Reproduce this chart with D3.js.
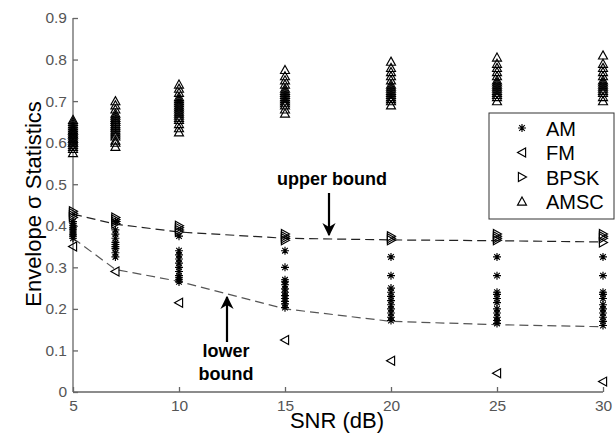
<!DOCTYPE html>
<meta charset="utf-8">
<style>
body { margin: 0; background: #fff; }
svg { font-family: 'Liberation Sans', Arial, sans-serif; }
.tick text { fill: #555; font-size: 15.5px; }
.axis path, .axis line { stroke: #666; stroke-width: 1.3px; }
.mark { fill: none; stroke: #000; stroke-width: 1.15px; }
.bound { fill: none; stroke-width: 1.2px; stroke-dasharray: 9,5; }
</style>
<html>
  <body>
    <svg width="616" height="439"></svg>
  </body>
</html>
<script src="https://d3js.org/d3.v7.min.js"></script>
<script>

var snr = [5, 7, 10, 15, 20, 25, 30];
var xTicks = [5, 10, 15, 20, 25, 30];
var yTicks = [0, 0.1, 0.2, 0.3, 0.4, 0.5, 0.6, 0.7, 0.8, 0.9];

// one list per SNR value
var amsc = [
  [0.575, 0.585, 0.59, 0.595, 0.6, 0.6, 0.605, 0.61, 0.61, 0.615, 0.62, 0.62, 0.625, 0.63, 0.63, 0.635, 0.64, 0.645, 0.65, 0.655],
  [0.59, 0.6, 0.605, 0.615, 0.62, 0.625, 0.63, 0.635, 0.64, 0.645, 0.65, 0.655, 0.66, 0.665, 0.67, 0.68, 0.69, 0.70],
  [0.625, 0.635, 0.645, 0.655, 0.66, 0.665, 0.67, 0.675, 0.68, 0.685, 0.69, 0.695, 0.70, 0.705, 0.71, 0.72, 0.73, 0.74],
  [0.67, 0.68, 0.69, 0.695, 0.70, 0.705, 0.71, 0.715, 0.72, 0.725, 0.73, 0.74, 0.75, 0.76, 0.775],
  [0.69, 0.70, 0.705, 0.71, 0.715, 0.72, 0.725, 0.73, 0.735, 0.74, 0.75, 0.76, 0.77, 0.78, 0.795],
  [0.70, 0.71, 0.715, 0.72, 0.725, 0.73, 0.735, 0.74, 0.745, 0.75, 0.76, 0.77, 0.78, 0.79, 0.805],
  [0.70, 0.71, 0.72, 0.725, 0.73, 0.735, 0.74, 0.745, 0.75, 0.76, 0.77, 0.78, 0.79, 0.81]
];
var am = [
  [0.37, 0.375, 0.38, 0.385, 0.39, 0.395, 0.40, 0.405, 0.41],
  [0.325, 0.335, 0.345, 0.35, 0.355, 0.36, 0.37, 0.38, 0.39, 0.41],
  [0.265, 0.27, 0.275, 0.28, 0.29, 0.30, 0.31, 0.32, 0.33, 0.34, 0.375],
  [0.203, 0.212, 0.218, 0.225, 0.232, 0.24, 0.248, 0.258, 0.265, 0.27, 0.30, 0.34],
  [0.172, 0.18, 0.19, 0.2, 0.21, 0.22, 0.23, 0.24, 0.25, 0.28, 0.325],
  [0.165, 0.172, 0.18, 0.19, 0.2, 0.215, 0.225, 0.235, 0.24, 0.28, 0.325],
  [0.16, 0.17, 0.18, 0.19, 0.2, 0.21, 0.225, 0.235, 0.24, 0.28, 0.325]
];
var fm = [[0.35], [0.29], [0.215], [0.125], [0.075], [0.045], [0.025]];
var bpsk = [
  [0.42, 0.425, 0.43, 0.435],
  [0.405, 0.41, 0.415, 0.42],
  [0.385, 0.39, 0.395, 0.40],
  [0.365, 0.37, 0.375, 0.38],
  [0.365, 0.37, 0.375],
  [0.365, 0.37, 0.375, 0.38],
  [0.36, 0.37, 0.375, 0.38]
];
var upperBound = [0.428, 0.404, 0.385, 0.37, 0.366, 0.364, 0.361];
var lowerBound = [0.37, 0.295, 0.266, 0.2, 0.17, 0.162, 0.157];

var legendNames = ["AM", "FM", "BPSK", "AMSC"];

(function() {
  var svg = d3.select("svg");

  var x = d3.scaleLinear().domain([5, 30]).range([73, 603]);
  var y = d3.scaleLinear().domain([0, 0.9]).range([392, 18]);

  // marker shapes, MATLAB style
  function star(s) {
    var d = s * 0.7;
    return "M" + (-s) + ",0H" + s + "M0," + (-s) + "V" + s +
           "M" + (-d) + "," + (-d) + "L" + d + "," + d +
           "M" + (-d) + "," + d + "L" + d + "," + (-d);
  }
  function tri(dir, s) {
    if (dir == "up") return "M0," + (-s) + "L" + s + "," + (s * 0.8) + "L" + (-s) + "," + (s * 0.8) + "Z";
    if (dir == "left") return "M" + (-s) + ",0L" + (s * 0.8) + "," + (-s) + "L" + (s * 0.8) + "," + s + "Z";
    return "M" + s + ",0L" + (-s * 0.8) + "," + (-s) + "L" + (-s * 0.8) + "," + s + "Z";
  }
  var shapes = {
    AM: star(4),
    FM: tri("left", 4.5),
    BPSK: tri("right", 4.5),
    AMSC: tri("up", 4.5)
  };

  // axes
  svg.append("g")
      .attr("class", "axis")
      .attr("transform", "translate(0,392)")
      .call(d3.axisBottom(x).tickValues(xTicks).tickSize(-5).tickPadding(8).tickFormat(d3.format("d")))
      .call(function(g) { g.select(".domain").attr("d", "M73,0H603"); });

  svg.append("g")
      .attr("class", "axis")
      .attr("transform", "translate(73,0)")
      .call(d3.axisLeft(y).tickValues(yTicks).tickSize(-5).tickPadding(6)
          .tickFormat(function(d) { return d == 0 ? "0" : d3.format(".1f")(d); }))
      .call(function(g) { g.select(".domain").attr("d", "M0,18V392"); });

  // bound lines
  var line = d3.line()
      .x(function(d, i) { return x(snr[i]); })
      .y(function(d) { return y(d); });

  svg.append("path").datum(upperBound)
      .attr("class", "bound").attr("stroke", "#222").attr("d", line);
  svg.append("path").datum(lowerBound)
      .attr("class", "bound").attr("stroke", "#555").attr("d", line);

  function plotSeries(name, values) {
    var pts = [];
    values.forEach(function(list, i) {
      list.forEach(function(v) { pts.push({ x: snr[i], y: v }); });
    });
    svg.append("g").selectAll("path")
      .data(pts)
      .enter().append("path")
        .attr("class", "mark")
        .attr("transform", function(d) { return "translate(" + x(d.x) + "," + y(d.y) + ")"; })
        .attr("d", shapes[name]);
  }

  plotSeries("AM", am);
  plotSeries("FM", fm);
  plotSeries("BPSK", bpsk);
  plotSeries("AMSC", amsc);

  // legend
  var legend = svg.append("g");
  legend.append("rect")
      .attr("x", 489).attr("y", 113).attr("width", 125).attr("height", 106)
      .attr("fill", "#fff").attr("stroke", "#333").attr("stroke-width", 1);
  legendNames.forEach(function(n, i) {
    var ly = 128 + i * 24.5;
    legend.append("path")
        .attr("class", "mark")
        .attr("stroke", n == "AM" ? "#000" : "#444")
        .attr("transform", "translate(522," + ly + ")")
        .attr("d", shapes[n]);
    legend.append("text")
        .attr("x", 546).attr("y", ly + 7.5)
        .attr("font-size", "20px")
        .text(n);
  });

  // annotations
  svg.append("defs").append("marker")
      .attr("id", "head").attr("viewBox", "0 0 10 10")
      .attr("refX", 9).attr("refY", 5)
      .attr("markerWidth", 6).attr("markerHeight", 6)
      .attr("orient", "auto")
    .append("path").attr("d", "M0,0L10,5L0,10L3,5Z").attr("fill", "#000");

  svg.append("text")
      .attr("x", 332).attr("y", 185)
      .attr("text-anchor", "middle")
      .attr("font-size", "18px").attr("font-weight", "bold")
      .text("upper bound");
  svg.append("line")
      .attr("x1", 329).attr("y1", 193).attr("x2", 329).attr("y2", 235)
      .attr("stroke", "#000").attr("stroke-width", 2.2)
      .attr("marker-end", "url(#head)");

  svg.append("text")
      .attr("x", 226).attr("y", 357)
      .attr("text-anchor", "middle")
      .attr("font-size", "18px").attr("font-weight", "bold")
      .text("lower");
  svg.append("text")
      .attr("x", 226).attr("y", 380)
      .attr("text-anchor", "middle")
      .attr("font-size", "18px").attr("font-weight", "bold")
      .text("bound");
  svg.append("line")
      .attr("x1", 227).attr("y1", 342).attr("x2", 227).attr("y2", 297)
      .attr("stroke", "#000").attr("stroke-width", 2.2)
      .attr("marker-end", "url(#head)");

  // axis titles
  svg.append("text")
      .attr("x", 337).attr("y", 428)
      .attr("text-anchor", "middle")
      .attr("font-size", "22px")
      .text("SNR (dB)");
  svg.append("text")
      .attr("transform", "translate(41,204) rotate(-90)")
      .attr("text-anchor", "middle")
      .attr("font-size", "22px")
      .text("Envelope σ Statistics");
})();

</script>
